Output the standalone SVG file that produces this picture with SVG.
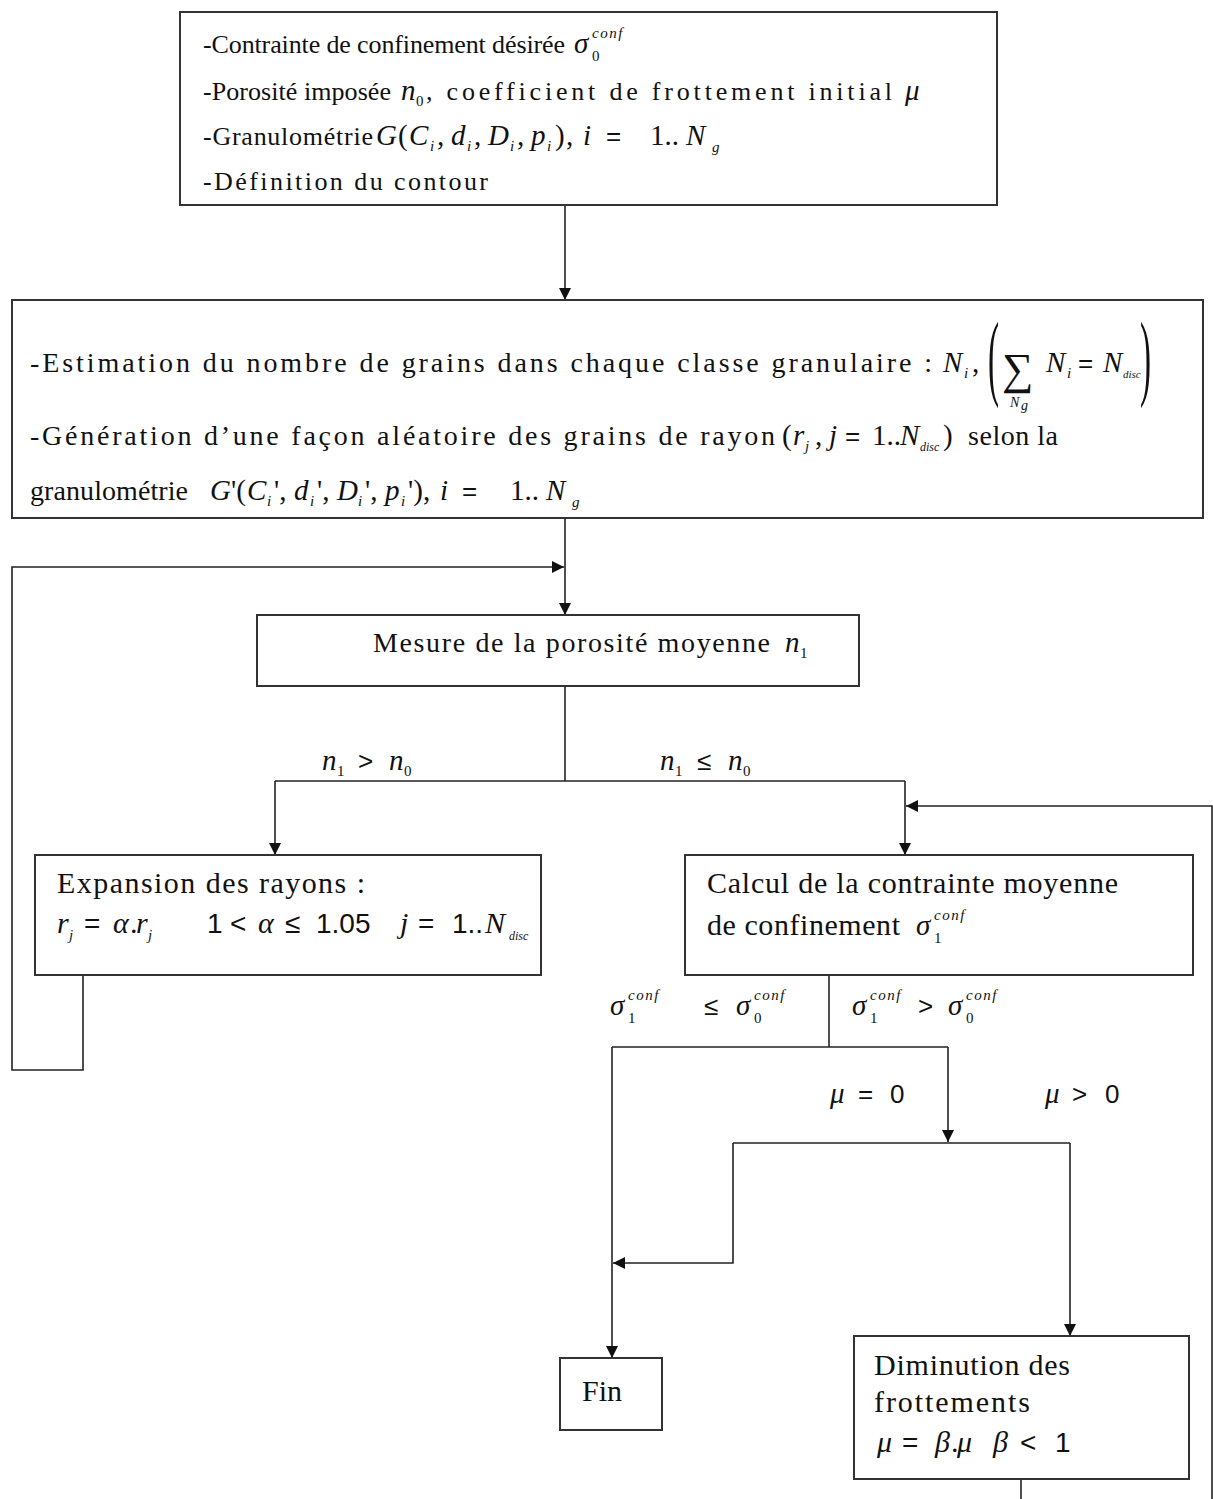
<svg xmlns="http://www.w3.org/2000/svg" width="1213" height="1499" viewBox="0 0 1213 1499">
<style>
.box{fill:#fff;stroke:#333;stroke-width:2}
.ln{fill:none;stroke:#222;stroke-width:1.6}
.t{font-family:"Liberation Serif","Times New Roman",serif;font-size:26px;fill:#111}
.t2{font-family:"Liberation Serif","Times New Roman",serif;font-size:28px;fill:#111}
.b{font-family:"Liberation Serif","Times New Roman",serif;font-size:30px;fill:#111}
.m{font-family:"Liberation Serif","Times New Roman",serif;font-style:italic;font-size:29px;fill:#111}
.r{font-style:normal}
.s{font-family:"Liberation Sans",Arial,sans-serif;font-style:normal;font-size:26px;fill:#111}
.sub{font-size:15px}
.sup{font-size:15px;letter-spacing:1.5px}
.big{font-family:"Liberation Serif","Times New Roman",serif;fill:#111}
</style>
<defs>
<marker id="ah" markerUnits="userSpaceOnUse" markerWidth="14" markerHeight="14" refX="12" refY="6" orient="auto">
<path d="M0,0 L12,6 L0,12 z" fill="#111"/>
</marker>
</defs>

<g id="connectors">
<path class="ln" d="M565,205 V300" marker-end="url(#ah)"/>
<path class="ln" d="M565,518 V615" marker-end="url(#ah)"/>
<path class="ln" d="M83,975 V1070 H12 V567 H564" marker-end="url(#ah)"/>
<path class="ln" d="M565,686 V781"/>
<path class="ln" d="M275,781 H905"/>
<path class="ln" d="M275,781 V855" marker-end="url(#ah)"/>
<path class="ln" d="M905,781 V855" marker-end="url(#ah)"/>
<path class="ln" d="M1212,1499 V806 H906" marker-end="url(#ah)"/>
<path class="ln" d="M1021,1479 V1499"/>
<path class="ln" d="M829,975 V1047"/>
<path class="ln" d="M612,1047 H948"/>
<path class="ln" d="M612,1047 V1358" marker-end="url(#ah)"/>
<path class="ln" d="M948,1047 V1142" marker-end="url(#ah)"/>
<path class="ln" d="M733,1143 H1070"/>
<path class="ln" d="M733,1143 V1263 H613" marker-end="url(#ah)"/>
<path class="ln" d="M1070,1143 V1336" marker-end="url(#ah)"/>
</g>

<g id="labels">
<text class="m" y="770"><tspan x="322">n</tspan><tspan class="sub r" x="337" y="776">1</tspan><tspan class="s" x="358" y="770">&gt;</tspan><tspan x="389">n</tspan><tspan class="sub r" x="404" y="776">0</tspan></text>
<text class="m" y="770"><tspan x="660">n</tspan><tspan class="sub r" x="675" y="776">1</tspan><tspan class="s" x="697" y="770">≤</tspan><tspan x="728">n</tspan><tspan class="sub r" x="743" y="776">0</tspan></text>
<text class="m" y="1015"><tspan x="610">σ</tspan><tspan class="sup" x="628" y="1000">conf</tspan><tspan class="sub r" x="628" y="1023">1</tspan><tspan class="s" x="704" y="1015">≤</tspan><tspan x="736" y="1015">σ</tspan><tspan class="sup" x="754" y="1000">conf</tspan><tspan class="sub r" x="754" y="1023">0</tspan></text>
<text class="m" y="1015"><tspan x="852">σ</tspan><tspan class="sup" x="870" y="1000">conf</tspan><tspan class="sub r" x="870" y="1023">1</tspan><tspan class="s" x="918" y="1015">&gt;</tspan><tspan x="948" y="1015">σ</tspan><tspan class="sup" x="966" y="1000">conf</tspan><tspan class="sub r" x="966" y="1023">0</tspan></text>
<text class="m" y="1103"><tspan x="830">μ</tspan><tspan class="s" x="858">=</tspan><tspan class="s" x="890">0</tspan></text>
<text class="m" y="1103"><tspan x="1045">μ</tspan><tspan class="s" x="1072">&gt;</tspan><tspan class="s" x="1105">0</tspan></text>
</g>

<g id="n1">
<rect class="box" x="180" y="12" width="817" height="193"/>
<text class="t" x="203" y="53" textLength="362" lengthAdjust="spacing">-Contrainte de confinement désirée</text>
<text class="m" y="53"><tspan x="574">σ</tspan><tspan class="sup" x="592" y="38">conf</tspan><tspan class="sub r" x="592" y="61">0</tspan></text>
<text class="t" x="203" y="100" textLength="188" lengthAdjust="spacing">-Porosité imposée</text>
<text class="m" y="100"><tspan x="401">n</tspan><tspan class="sub r" x="416" y="106">0</tspan></text>
<text class="t" x="426" y="100" textLength="466" lengthAdjust="spacing">, coefficient de frottement initial</text>
<text class="m" x="905" y="100">μ</text>
<text class="t" x="203" y="145" textLength="170" lengthAdjust="spacing">-Granulométrie</text>
<text class="m" y="145"><tspan x="376">G</tspan><tspan class="r" x="398">(</tspan><tspan x="409">C</tspan><tspan class="sub" x="430" y="151">i</tspan><tspan class="r" x="437" y="145">,</tspan><tspan x="451">d</tspan><tspan class="sub" x="467" y="151">i</tspan><tspan class="r" x="474" y="145">,</tspan><tspan x="488">D</tspan><tspan class="sub" x="510" y="151">i</tspan><tspan class="r" x="517" y="145">,</tspan><tspan x="531">p</tspan><tspan class="sub" x="547" y="151">i</tspan><tspan class="r" x="555" y="145">)</tspan><tspan class="r" x="566">,</tspan><tspan x="583">i</tspan><tspan class="s" x="606">=</tspan><tspan class="r" x="650">1..</tspan><tspan x="686">N</tspan><tspan class="sub" x="712" y="152">g</tspan></text>
<text class="t" x="203" y="190" textLength="285" lengthAdjust="spacing">-Définition du contour</text>
</g>

<g id="n2">
<rect class="box" x="12" y="300" width="1191" height="218"/>
<text class="t2" x="30" y="372" textLength="902" lengthAdjust="spacing">-Estimation du nombre de grains dans chaque classe granulaire :</text>
<text class="m" y="372"><tspan x="943">N</tspan><tspan class="sub" x="964" y="378">i</tspan><tspan class="r" x="972" y="372">,</tspan></text>
<text class="big" transform="translate(988,388) scale(0.35,1)" style="font-size:95px" x="0" y="0">(</text>
<text class="big" x="1002" y="384" style="font-size:44px">∑</text>
<text class="m" y="407" style="font-size:14px"><tspan x="1010">N</tspan><tspan x="1021" y="410">g</tspan></text>
<text class="m" y="372"><tspan x="1046">N</tspan><tspan class="sub" x="1067" y="378">i</tspan><tspan class="s" x="1078" y="372">=</tspan><tspan x="1103">N</tspan><tspan class="sub" x="1123" y="378" style="font-size:11px;letter-spacing:0">disc</tspan></text>
<text class="big" transform="translate(1140,388) scale(0.35,1)" style="font-size:95px" x="0" y="0">)</text>
<text class="t2" x="30" y="445" textLength="745" lengthAdjust="spacing">-Génération d’une façon aléatoire des grains de rayon</text>
<text class="m" y="445"><tspan class="r" x="782">(</tspan><tspan x="793">r</tspan><tspan class="sub" x="805" y="451">j</tspan><tspan class="r" x="815" y="445">,</tspan><tspan x="829">j</tspan><tspan class="s" x="845">=</tspan><tspan class="r" x="872">1..</tspan><tspan x="900">N</tspan><tspan class="sub" x="920" y="451" style="font-size:12px">disc</tspan><tspan class="r" x="943" y="445">)</tspan></text>
<text class="t2" x="968" y="445" textLength="90" lengthAdjust="spacing">selon la</text>
<text class="t2" x="30" y="500" textLength="158" lengthAdjust="spacing">granulométrie</text>
<text class="m" y="500"><tspan x="210">G</tspan><tspan class="r" x="231">'(</tspan><tspan x="247">C</tspan><tspan class="sub" x="267" y="506">i</tspan><tspan class="r" x="274" y="500">',</tspan><tspan x="294">d</tspan><tspan class="sub" x="310" y="506">i</tspan><tspan class="r" x="317" y="500">',</tspan><tspan x="337">D</tspan><tspan class="sub" x="358" y="506">i</tspan><tspan class="r" x="365" y="500">',</tspan><tspan x="385">p</tspan><tspan class="sub" x="401" y="506">i</tspan><tspan class="r" x="408" y="500">'),</tspan><tspan x="440">i</tspan><tspan class="s" x="462">=</tspan><tspan class="r" x="510">1..</tspan><tspan x="546">N</tspan><tspan class="sub" x="572" y="507">g</tspan></text>
</g>

<g id="n3">
<rect class="box" x="257" y="615" width="602" height="71"/>
<text class="t2" x="373" y="652" textLength="397" lengthAdjust="spacing">Mesure de la porosité moyenne</text>
<text class="m" y="652"><tspan x="785">n</tspan><tspan class="sub r" x="800" y="658">1</tspan></text>
</g>

<g id="n4">
<rect class="box" x="35" y="855" width="506" height="120"/>
<text class="b" x="57" y="893" textLength="308" lengthAdjust="spacing">Expansion des rayons :</text>
<text class="m" y="933" style="font-size:30px"><tspan x="57">r</tspan><tspan class="sub" x="69" y="940">j</tspan><tspan class="s" x="84" y="933" style="font-size:28px">=</tspan><tspan x="113">α</tspan><tspan class="r" x="130">.</tspan><tspan x="136">r</tspan><tspan class="sub" x="148" y="940">j</tspan></text>
<text class="s" y="933" style="font-size:28px"><tspan x="207">1</tspan><tspan x="230">&lt;</tspan><tspan class="m" x="258" style="font-size:30px">α</tspan><tspan x="285">≤</tspan><tspan x="316">1.05</tspan></text>
<text class="m" y="933" style="font-size:30px"><tspan x="400">j</tspan><tspan class="s" x="418" style="font-size:28px">=</tspan><tspan class="s" x="452" style="font-size:28px">1..</tspan><tspan x="485">N</tspan><tspan class="sub" x="509" y="940" style="font-size:12px">disc</tspan></text>
</g>

<g id="n5">
<rect class="box" x="685" y="855" width="508" height="120"/>
<text class="b" x="707" y="893" textLength="411" lengthAdjust="spacing">Calcul de la contrainte moyenne</text>
<text class="b" x="707" y="935" textLength="193" lengthAdjust="spacing">de confinement</text>
<text class="m" y="935"><tspan x="916">σ</tspan><tspan class="sup" x="934" y="920">conf</tspan><tspan class="sub r" x="934" y="943">1</tspan></text>
</g>

<g id="n6">
<rect class="box" x="560" y="1358" width="102" height="72"/>
<text class="b" x="582" y="1401">Fin</text>
</g>

<g id="n7">
<rect class="box" x="854" y="1336" width="335" height="143"/>
<text class="b" x="874" y="1375" textLength="196" lengthAdjust="spacing">Diminution des</text>
<text class="b" x="874" y="1412" textLength="156" lengthAdjust="spacing">frottements</text>
<text class="m" y="1452" style="font-size:30px"><tspan x="877">μ</tspan><tspan class="s" x="902" style="font-size:28px">=</tspan><tspan x="935">β</tspan><tspan class="r" x="951">.</tspan><tspan x="957">μ</tspan><tspan x="993">β</tspan><tspan class="s" x="1020" style="font-size:28px">&lt;</tspan><tspan class="s" x="1055" style="font-size:28px">1</tspan></text>
</g>
</svg>
